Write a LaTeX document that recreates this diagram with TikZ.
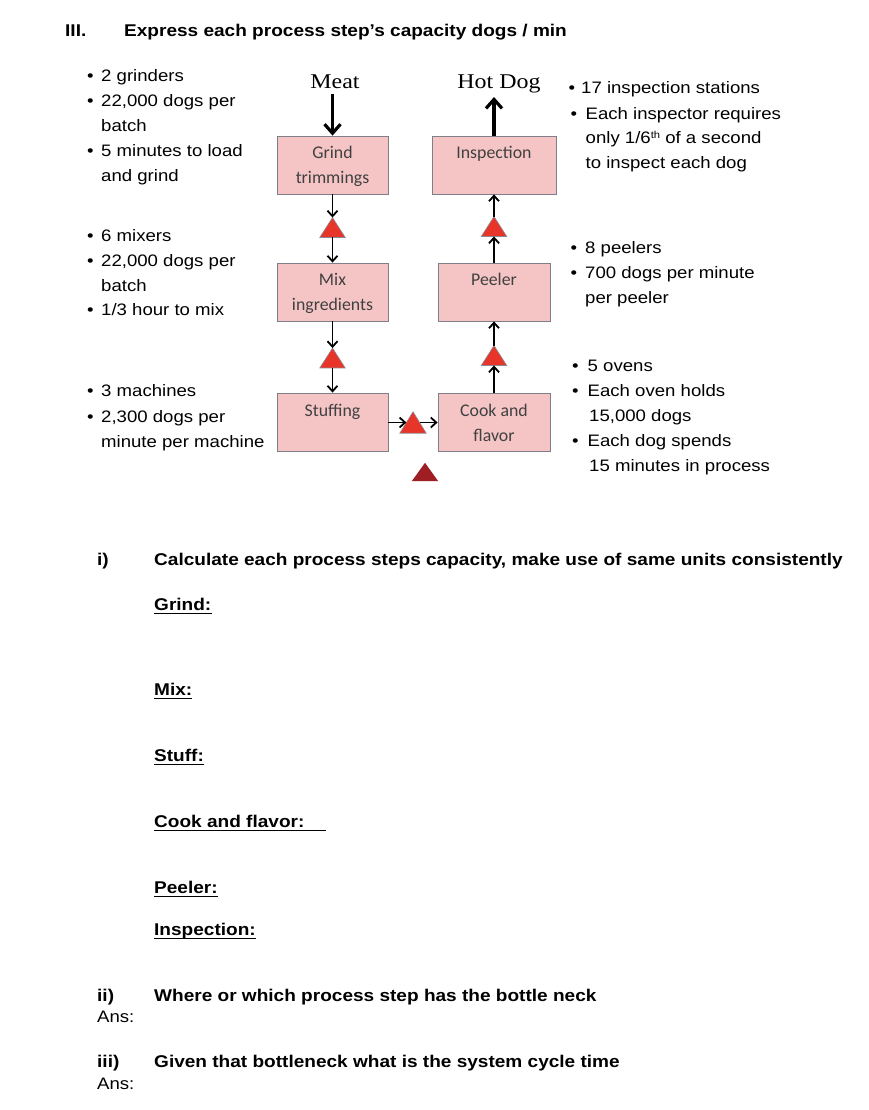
\documentclass[tikz,border=0pt]{standalone}
\usepackage{fontspec}
\usetikzlibrary{arrows.meta,calc}
\newfontfamily\ar{Liberation Sans}[FakeStretch=1.12]
\newfontfamily\tnr{Liberation Serif}[FakeStretch=1.14]
\newfontfamily\carl{Carlito}
\definecolor{boxfill}{HTML}{F5C5C6}
\definecolor{boxline}{HTML}{7F7F8A}
\definecolor{trired}{HTML}{E8352A}
\definecolor{triline}{HTML}{8A8A94}
\definecolor{darkred}{HTML}{9E1E24}
\definecolor{boxtext}{HTML}{404040}
\begin{document}
\begin{tikzpicture}[x=1pt,y=-1pt,
  txt/.style={anchor=base west,inner sep=0pt,font=\ar\fontsize{16.6}{20}\selectfont},
  btxt/.style={anchor=base west,inner sep=0pt,font=\ar\bfseries\fontsize{17}{20}\selectfont},
  stepbox/.style={draw=boxline,fill=boxfill,line width=0.8pt,inner sep=0pt,minimum width=111pt,minimum height=58pt},
  boxtxt/.style={anchor=base,inner sep=0pt,font=\carl\fontsize{17.8}{20}\selectfont,text=boxtext},
  tri/.style={inner sep=0pt,minimum width=25pt,minimum height=19.5pt},
  trifill/.style={fill=trired,draw=triline,line width=0.6pt},
  conn/.style={line width=1.8pt,-{Straight Barb[length=5.5pt,width=10pt,line width=1.8pt]}},
  bigarrow/.style={line width=3.2pt,-{Straight Barb[length=9pt,width=16pt,line width=3.2pt]}},
  uline/.style={line width=1.6pt}]
\useasboundingbox (0,0) rectangle (868,1110);
\fill[white] (0,0) rectangle (868,1110);

% title
\node[btxt] (t3) at (65,37) {III.};
\node[btxt] (title) at (124,37) {Express each process step’s capacity dogs / min};

% process boxes
\node[stepbox] (grind) at (332.5,165) {};
\node[stepbox,minimum width=124pt] (insp) at (494,165) {};
\node[stepbox] (mix) at (332.5,292) {};
\node[stepbox,minimum width=112pt] (peel) at (494,292) {};
\node[stepbox] (stuff) at (332.5,422) {};
\node[stepbox,minimum width=112pt] (cook) at (494,422) {};

\node[boxtxt] (grindA) at (332.5,159) {Grind};
\node[boxtxt] (grindB) at (332.5,184) {trimmings};
\node[boxtxt] (inspA) at (494,159) {Inspection};
\node[boxtxt] (mixA) at (332.5,285) {Mix};
\node[boxtxt] (mixB) at (332.5,310) {ingredients};
\node[boxtxt] (peelA) at (494,285) {Peeler};
\node[boxtxt] (stuffA) at (332.5,416) {Stuffing};
\node[boxtxt] (cookA) at (494,416) {Cook and};
\node[boxtxt] (cookB) at (494,441) {flavor};

% triangles (inventory)
\node[tri] (tA) at (332.5,227.5) {};
\node[tri] (tB) at (332.5,358) {};
\node[tri] (tC) at (494,226.5) {};
\node[tri] (tD) at (494,355.5) {};
\node[tri,minimum width=26pt,minimum height=21pt] (tE) at (413,422.5) {};
\node[tri,minimum width=26pt,minimum height=18pt] (tF) at (425,472) {};
\foreach \t in {tA,tB,tC,tD,tE}
  \draw[trifill] (\t.south west) -- (\t.north) -- (\t.south east) -- cycle;
\fill[darkred] (tF.south west) -- (tF.north) -- (tF.south east) -- cycle;

% connectors
\draw[conn] (grind.south) -- (tA.north);
\draw[conn] (tA.south) -- (mix.north);
\draw[conn] (mix.south) -- (tB.north);
\draw[conn] (tB.south) -- (stuff.north);
\coordinate (tEin) at ($(tE.south west)!0.5!(tE.north)$);
\coordinate (tEout) at ($(tE.south east)!0.5!(tE.north)$);
\draw[conn] (stuff.east |- tEin) -- (tEin);
\draw[conn] (tEout) -- (cook.west |- tEout);
\draw[conn] (cook.north) -- (tD.south);
\draw[conn] (tD.north) -- (peel.south);
\draw[conn] (peel.north) -- (tC.south);
\draw[conn] (tC.north) -- (insp.south);

% Meat / Hot Dog
\node[font=\tnr\fontsize{21}{24}\selectfont,anchor=base,inner sep=0pt] (meat) at (335,89) {Meat};
\node[font=\tnr\fontsize{21}{24}\selectfont,anchor=base,inner sep=0pt] (hotdog) at (499,89) {Hot Dog};
\coordinate (meatend) at (332.5,94);
\coordinate (hdend) at (494,97);
\draw[bigarrow] (meatend) -- (grind.north);
\draw[bigarrow] (insp.north) -- (hdend);

% left notes
\node[txt] (lb1) at (86.8,82) {•};
\node[txt] (l1) at (101,82) {2 grinders};
\node[txt] (lb2) at (86.8,107) {•};
\node[txt] (l2) at (101,107) {22,000 dogs per};
\node[txt] (l3) at (101,132) {batch};
\node[txt] (lb3) at (86.8,157) {•};
\node[txt] (l4) at (101,157) {5 minutes to load};
\node[txt] (l5) at (101,182) {and grind};

\node[txt] (lb4) at (86.8,241) {•};
\node[txt] (l6) at (101,241) {6 mixers};
\node[txt] (lb5) at (86.8,266) {•};
\node[txt] (l7) at (101,266) {22,000 dogs per};
\node[txt] (l8) at (101,291) {batch};
\node[txt] (lb6) at (86.8,315) {•};
\node[txt] (l9) at (101,315) {1/3 hour to mix};

\node[txt] (lb7) at (86.8,396) {•};
\node[txt] (l10) at (101,396) {3 machines};
\node[txt] (lb8) at (86.8,422) {•};
\node[txt] (l11) at (101,422) {2,300 dogs per};
\node[txt] (l12) at (101,447) {minute per machine};

% right notes
\node[txt] (rb1) at (568.5,94) {•};
\node[txt] (r1) at (581,94) {17 inspection stations};
\node[txt] (rb2) at (570.5,120) {•};
\node[txt] (r2) at (585.5,120) {Each inspector requires};
\node[txt] (r3) at (585.5,144) {only 1/6\raisebox{0.6ex}{\fontsize{10}{12}\selectfont th} of a second};
\node[txt] (r4) at (585.5,169) {to inspect each dog};

\node[txt] (rb3) at (570.5,253) {•};
\node[txt] (r5) at (585,253) {8 peelers};
\node[txt] (rb4) at (570.5,278) {•};
\node[txt] (r6) at (585,278) {700 dogs per minute};
\node[txt] (r7) at (585,303) {per peeler};

\node[txt] (rb5) at (572,371) {•};
\node[txt] (r8) at (587.5,371) {5 ovens};
\node[txt] (rb6) at (572,396) {•};
\node[txt] (r9) at (587.5,396) {Each oven holds};
\node[txt] (r10) at (589,421) {15,000 dogs};
\node[txt] (rb7) at (572,446) {•};
\node[txt] (r11) at (587.5,446) {Each dog spends};
\node[txt] (r12) at (589,471) {15 minutes in process};

% questions
\node[btxt] (qi) at (97,565) {i)};
\node[btxt] (qiT) at (154,565) {Calculate each process steps capacity, make use of same units consistently};
\node[btxt] (hg) at (154,610) {Grind:};
\node[btxt] (hm) at (154,695) {Mix:};
\node[btxt] (hs) at (154,761) {Stuff:};
\node[btxt] (hc) at (154,827) {Cook and flavor:};
\node[btxt] (hp) at (154,893) {Peeler:};
\node[btxt] (hi) at (154,935) {Inspection:};
\foreach \h in {hg,hm,hs,hp,hi}
  \draw[uline] ([yshift=-3.5pt]\h.base west) -- ([yshift=-3.5pt]\h.base east);
\coordinate (hcend) at (326,830.5);
\draw[uline] ([yshift=-3.5pt]hc.base west) -- (hcend);

\node[btxt] (qii) at (97,1001) {ii)};
\node[btxt] (qiiT) at (154,1001) {Where or which process step has the bottle neck};
\node[txt] (ans1) at (97,1022) {Ans:};
\node[btxt] (qiii) at (97,1067) {iii)};
\node[btxt] (qiiiT) at (154,1067) {Given that bottleneck what is the system cycle time};
\node[txt] (ans2) at (97,1089) {Ans:};
\end{tikzpicture}
\end{document}
